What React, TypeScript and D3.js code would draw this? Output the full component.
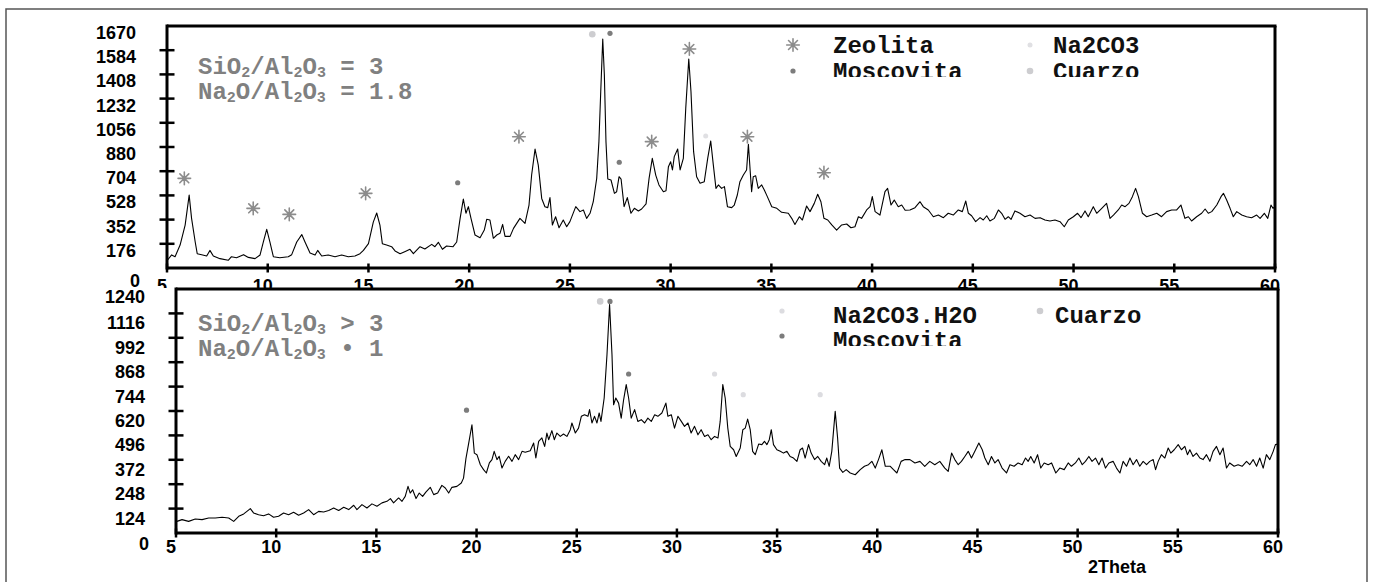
import React from "react";
import * as d3 from "d3";

type Point = [number, number];

interface Mark {
  theta: number;
  counts: number;
  phase: string;
}

// 2Theta / counts (SiO2/Al2O3 = 3)
const topScan: Point[] = [
  [5.03, 58], [5.23, 95], [5.4, 82], [5.65, 167], [5.9, 312], [6.1, 530], [6.22, 361], [6.4, 189],
  [6.5, 104], [6.72, 97], [6.97, 87], [7.13, 128], [7.3, 87], [7.63, 68], [8.04, 56], [8.2, 82],
  [8.45, 75], [8.8, 97], [9.04, 77], [9.37, 68], [9.62, 95], [9.78, 189], [9.95, 281], [10.11, 189],
  [10.28, 82], [10.6, 75], [11.02, 82], [11.19, 97], [11.44, 189], [11.69, 243], [11.85, 189], [12.1, 109],
  [12.35, 94], [12.48, 128], [12.68, 87], [13.0, 94], [13.34, 82], [13.67, 94], [14.0, 82], [14.33, 87],
  [14.58, 104], [14.75, 128], [15.0, 177], [15.24, 334], [15.41, 400], [15.57, 312], [15.69, 177], [15.9, 167],
  [16.15, 155], [16.32, 124], [16.57, 104], [16.8, 119], [17.06, 136], [17.23, 104], [17.56, 155], [17.8, 138],
  [18.14, 172], [18.3, 155], [18.47, 187], [18.67, 136], [18.88, 160], [19.2, 155], [19.38, 189], [19.55, 361],
  [19.71, 502], [19.84, 398], [19.96, 446], [20.09, 361], [20.29, 240], [20.54, 220], [20.75, 276], [20.87, 354],
  [21.03, 349], [21.2, 216], [21.37, 240], [21.53, 252], [21.66, 317], [21.78, 230], [22.03, 230], [22.2, 288],
  [22.52, 361], [22.77, 325], [22.97, 458], [23.1, 676], [23.27, 865], [23.43, 748], [23.6, 506], [23.76, 446],
  [23.9, 439], [24.01, 512], [24.13, 313], [24.29, 373], [24.46, 293], [24.67, 349], [24.84, 300], [25.0, 337],
  [25.29, 446], [25.5, 410], [25.67, 422], [25.83, 361], [26.0, 398], [26.16, 482], [26.33, 652], [26.44, 919],
  [26.53, 1282], [26.63, 1665], [26.71, 1403], [26.79, 919], [26.88, 647], [27.04, 640], [27.21, 543], [27.32, 555],
  [27.44, 664], [27.54, 647], [27.69, 446], [27.85, 512], [28.03, 398], [28.2, 434], [28.4, 415], [28.56, 429],
  [28.78, 466], [28.93, 652], [29.09, 797], [29.26, 676], [29.42, 604], [29.64, 555], [29.77, 562], [29.89, 737],
  [30.0, 773], [30.09, 713], [30.18, 810], [30.35, 865], [30.47, 713], [30.63, 797], [30.75, 1161], [30.9, 1520],
  [31.01, 1282], [31.14, 846], [31.29, 664], [31.46, 616], [31.67, 628], [31.84, 797], [31.99, 924], [32.12, 748],
  [32.25, 579], [32.37, 604], [32.53, 579], [32.67, 592], [32.82, 446], [33.03, 439], [33.16, 458], [33.31, 531],
  [33.44, 628], [33.61, 676], [33.77, 713], [33.86, 899], [33.94, 725], [34.02, 555], [34.1, 664], [34.22, 671],
  [34.35, 579], [34.52, 604], [34.65, 567], [34.8, 519], [35.02, 446], [35.27, 434], [35.51, 405], [35.84, 398],
  [36.01, 361], [36.17, 317], [36.39, 373], [36.54, 349], [36.75, 451], [36.92, 410], [37.13, 470], [37.3, 536],
  [37.46, 482], [37.61, 361], [37.8, 349], [38.0, 313], [38.24, 276], [38.49, 313], [38.74, 320], [38.95, 293],
  [39.15, 300], [39.32, 373], [39.48, 361], [39.73, 422], [39.9, 446], [40.01, 519], [40.15, 410], [40.39, 385],
  [40.64, 555], [40.77, 579], [40.94, 458], [41.1, 494], [41.3, 446], [41.47, 458], [41.64, 420], [41.88, 422],
  [42.13, 439], [42.38, 482], [42.54, 446], [42.79, 422], [43.04, 373], [43.29, 385], [43.54, 366], [43.78, 398],
  [44.03, 385], [44.28, 422], [44.48, 410], [44.65, 487], [44.78, 398], [44.94, 380], [45.14, 337], [45.36, 366],
  [45.52, 349], [45.69, 380], [45.85, 342], [46.07, 361], [46.27, 422], [46.43, 398], [46.6, 354], [46.76, 373],
  [46.9, 354], [47.09, 415], [47.34, 398], [47.59, 373], [47.84, 385], [48.09, 361], [48.34, 366], [48.58, 349],
  [48.83, 342], [49.08, 349], [49.33, 337], [49.54, 300], [49.74, 349], [49.99, 373], [50.2, 398], [50.37, 366],
  [50.57, 415], [50.73, 373], [50.98, 446], [51.15, 398], [51.4, 434], [51.64, 470], [51.81, 361], [51.98, 385],
  [52.22, 422], [52.39, 458], [52.56, 446], [52.75, 470], [52.92, 519], [53.08, 579], [53.22, 519], [53.42, 398],
  [53.63, 373], [53.88, 385], [54.13, 398], [54.37, 373], [54.62, 410], [54.87, 422], [55.12, 422], [55.33, 458],
  [55.53, 361], [55.7, 373], [55.86, 342], [56.11, 373], [56.36, 398], [56.53, 429], [56.69, 398], [56.86, 410],
  [57.11, 458], [57.32, 519], [57.44, 543], [57.6, 494], [57.77, 434], [57.93, 373], [58.1, 410], [58.35, 385],
  [58.59, 373], [58.84, 366], [59.09, 385], [59.26, 361], [59.47, 398], [59.64, 361], [59.8, 458], [59.9, 434],
  [60.0, 446],
];

// lower pattern (SiO2/Al2O3 > 3)
const bottomScan: Point[] = [
  [5.05, 59], [5.3, 68], [5.63, 59], [5.96, 71], [6.3, 68], [6.63, 76], [6.96, 76], [7.3, 80],
  [7.63, 76], [7.88, 59], [8.13, 85], [8.38, 97], [8.54, 110], [8.71, 124], [8.87, 102], [9.12, 93],
  [9.37, 88], [9.62, 97], [9.87, 80], [10.12, 85], [10.37, 102], [10.62, 93], [10.87, 105], [11.12, 90],
  [11.37, 102], [11.62, 119], [11.87, 93], [12.12, 110], [12.37, 107], [12.62, 114], [12.87, 127], [13.12, 114],
  [13.37, 131], [13.62, 119], [13.87, 141], [14.03, 119], [14.28, 144], [14.53, 127], [14.78, 148], [15.03, 136],
  [15.28, 153], [15.53, 161], [15.7, 175], [15.86, 153], [16.11, 178], [16.28, 161], [16.44, 186], [16.58, 237],
  [16.69, 203], [16.81, 220], [16.98, 175], [17.14, 203], [17.31, 186], [17.47, 208], [17.69, 232], [17.86, 195],
  [18.06, 203], [18.27, 242], [18.44, 229], [18.61, 203], [18.77, 232], [19.02, 237], [19.24, 254], [19.35, 279],
  [19.47, 378], [19.6, 452], [19.77, 550], [19.89, 406], [20.02, 398], [20.19, 347], [20.35, 322], [20.49, 305],
  [20.64, 356], [20.77, 373], [20.88, 415], [21.02, 373], [21.13, 390], [21.27, 330], [21.43, 364], [21.6, 390],
  [21.77, 364], [21.93, 398], [22.1, 373], [22.27, 415], [22.43, 410], [22.68, 418], [22.85, 457], [22.96, 381],
  [23.1, 466], [23.26, 483], [23.4, 440], [23.51, 508], [23.6, 474], [23.76, 520], [23.88, 474], [24.01, 508],
  [24.18, 491], [24.34, 503], [24.51, 491], [24.68, 525], [24.76, 559], [24.93, 508], [25.09, 533], [25.23, 593],
  [25.39, 601], [25.56, 593], [25.64, 627], [25.76, 559], [25.89, 593], [26.01, 559], [26.12, 610], [26.21, 567],
  [26.37, 686], [26.51, 906], [26.64, 1161], [26.76, 906], [26.84, 652], [26.95, 686], [27.09, 660], [27.22, 584],
  [27.34, 677], [27.47, 754], [27.59, 686], [27.72, 584], [27.89, 627], [28.05, 567], [28.22, 576], [28.39, 559],
  [28.55, 584], [28.72, 567], [28.89, 601], [29.05, 593], [29.25, 610], [29.45, 660], [29.55, 593], [29.72, 601],
  [29.88, 533], [30.05, 593], [30.22, 567], [30.38, 542], [30.55, 559], [30.71, 508], [30.88, 542], [31.05, 499],
  [31.21, 525], [31.38, 491], [31.55, 499], [31.71, 474], [31.88, 491], [32.05, 483], [32.16, 567], [32.29, 754],
  [32.41, 686], [32.54, 533], [32.66, 440], [32.83, 423], [32.96, 389], [33.16, 432], [33.29, 525], [33.41, 533],
  [33.53, 579], [33.66, 525], [33.78, 415], [33.91, 398], [34.08, 452], [34.24, 449], [34.37, 466], [34.49, 449],
  [34.61, 474], [34.71, 525], [34.82, 449], [34.99, 423], [35.16, 415], [35.32, 406], [35.49, 415], [35.65, 389],
  [35.82, 381], [35.99, 364], [36.15, 423], [36.27, 432], [36.4, 381], [36.57, 449], [36.7, 406], [36.87, 373],
  [37.03, 389], [37.2, 364], [37.37, 347], [37.48, 381], [37.6, 339], [37.73, 415], [37.9, 618], [38.02, 483],
  [38.12, 330], [38.28, 308], [38.45, 322], [38.65, 305], [38.9, 296], [39.15, 322], [39.36, 339], [39.56, 347],
  [39.73, 364], [39.9, 330], [40.06, 373], [40.23, 423], [40.4, 339], [40.65, 339], [40.81, 322], [40.98, 305],
  [41.19, 364], [41.39, 373], [41.63, 373], [41.88, 356], [42.13, 364], [42.37, 339], [42.62, 364], [42.87, 347],
  [43.12, 364], [43.37, 330], [43.54, 313], [43.71, 406], [43.87, 373], [44.04, 347], [44.2, 364], [44.37, 389],
  [44.54, 415], [44.7, 381], [44.87, 415], [45.07, 457], [45.24, 423], [45.37, 381], [45.54, 347], [45.7, 389],
  [45.87, 356], [46.03, 373], [46.23, 330], [46.45, 305], [46.62, 347], [46.83, 339], [47.03, 356], [47.23, 347],
  [47.4, 381], [47.53, 364], [47.66, 389], [47.83, 356], [48.0, 398], [48.16, 330], [48.33, 356], [48.53, 347],
  [48.7, 356], [48.91, 305], [49.11, 330], [49.33, 322], [49.53, 356], [49.69, 339], [49.89, 356], [50.06, 381],
  [50.23, 347], [50.39, 364], [50.56, 389], [50.72, 364], [50.89, 381], [51.06, 347], [51.22, 381], [51.39, 330],
  [51.56, 356], [51.77, 364], [51.94, 330], [52.11, 305], [52.27, 364], [52.44, 339], [52.61, 381], [52.77, 347],
  [52.94, 373], [53.1, 339], [53.27, 364], [53.44, 347], [53.6, 364], [53.77, 373], [53.89, 322], [54.02, 364],
  [54.18, 398], [54.35, 381], [54.52, 432], [54.65, 406], [54.82, 423], [55.02, 449], [55.18, 423], [55.35, 440],
  [55.48, 398], [55.6, 423], [55.76, 389], [55.93, 406], [56.1, 381], [56.26, 373], [56.43, 398], [56.6, 364],
  [56.76, 415], [56.93, 440], [57.1, 398], [57.26, 432], [57.43, 330], [57.59, 356], [57.81, 339], [58.01, 347],
  [58.21, 339], [58.43, 364], [58.59, 347], [58.76, 373], [58.93, 339], [59.09, 381], [59.26, 330], [59.42, 398],
  [59.59, 373], [59.76, 415], [59.87, 449], [60.0, 452],
];

const topMarks: Mark[] = [
  { theta: 5.86, counts: 652, phase: "Zeolita" },
  { theta: 9.28, counts: 434, phase: "Zeolita" },
  { theta: 11.07, counts: 390, phase: "Zeolita" },
  { theta: 14.86, counts: 543, phase: "Zeolita" },
  { theta: 19.43, counts: 620, phase: "Moscovita" },
  { theta: 22.47, counts: 955, phase: "Zeolita" },
  { theta: 26.11, counts: 1700, phase: "Cuarzo" },
  { theta: 26.99, counts: 1707, phase: "Moscovita" },
  { theta: 27.45, counts: 769, phase: "Moscovita" },
  { theta: 29.06, counts: 919, phase: "Zeolita" },
  { theta: 30.93, counts: 1593, phase: "Zeolita" },
  { theta: 31.74, counts: 960, phase: "Na2CO3" },
  { theta: 33.81, counts: 955, phase: "Zeolita" },
  { theta: 37.61, counts: 693, phase: "Zeolita" },
];

const bottomMarks: Mark[] = [
  { theta: 19.5, counts: 624, phase: "Moscovita" },
  { theta: 26.17, counts: 1177, phase: "Cuarzo" },
  { theta: 26.66, counts: 1177, phase: "Moscovita" },
  { theta: 27.59, counts: 808, phase: "Moscovita" },
  { theta: 31.88, counts: 808, phase: "Na2CO3.H2O" },
  { theta: 33.31, counts: 703, phase: "Na2CO3.H2O" },
  { theta: 37.15, counts: 703, phase: "Na2CO3.H2O" },
];

const thetaTicks = [5, 10, 15, 20, 25, 30, 35, 40, 45, 50, 55, 60];
const topCountTicks = [176, 352, 528, 704, 880, 1056, 1232, 1408, 1584];
const topCountLabels = [0, 176, 352, 528, 704, 880, 1056, 1232, 1408, 1584, 1670];
const bottomCountTicks = [124, 248, 372, 496, 620, 744, 868, 992, 1116];
const bottomCountLabels = [0, 124, 248, 372, 496, 620, 744, 868, 992, 1116, 1240];

const topLegend = [["Zeolita", "Moscovita"], ["Na2CO3", "Cuarzo"]];
const bottomLegend = [["Na2CO3.H2O", "Moscovita"], ["Cuarzo"]];

// ratio annotations; "_" marks a subscript piece
const topRatio = [["SiO", "_2", "/Al", "_2", "O", "_3", " = 3"], ["Na", "_2", "O/Al", "_2", "O", "_3", " = 1.8"]];
const bottomRatio = [["SiO", "_2", "/Al", "_2", "O", "_3", " > 3"], ["Na", "_2", "O/Al", "_2", "O", "_3", " \u2022 1"]];

const phaseStyle: Record<string, { star?: boolean; r: number; color: string }> = {
  Zeolita: { star: true, r: 6.3, color: "#8c8c8c" },
  Moscovita: { r: 2.6, color: "#7c7c7c" },
  Na2CO3: { r: 2.5, color: "#e0e0e3" },
  "Na2CO3.H2O": { r: 2.6, color: "#dcdce0" },
  Cuarzo: { r: 3.3, color: "#cdcdd0" },
};

const tickFont = "'Liberation Sans', Arial, Helvetica, sans-serif";
const monoFont = "'Liberation Mono', 'Courier New', monospace";
const textGrey = "#808080";

function Symbol({ cx, cy, phase }: { cx: number; cy: number; phase: string }) {
  const s = phaseStyle[phase];
  if (s.star) {
    const r = s.r;
    const d = r * Math.SQRT1_2;
    return (
      <path
        d={`M${cx},${cy - r}L${cx},${cy + r}M${cx - r},${cy}L${cx + r},${cy}M${cx - d},${cy - d}L${cx + d},${cy + d}M${cx - d},${cy + d}L${cx + d},${cy - d}`}
        stroke={s.color}
        strokeWidth={1.6}
        strokeLinecap="round"
      />
    );
  }
  return <circle cx={cx} cy={cy} r={s.r} fill={s.color} />;
}

function Ratio({ x, y, lines }: { x: number; y: number; lines: string[][] }) {
  return (
    <g fontFamily={monoFont} fontWeight="bold" fill={textGrey}>
      {lines.map((parts, i) => {
        let shift = 0;
        return (
          <text key={i} x={x} y={y + i * 25} fontSize={24}>
            {parts.map((p, j) => {
              const sub = p.startsWith("_");
              const target = sub ? 3 : 0;
              const dy = target - shift;
              shift = target;
              return (
                <tspan key={j} dy={dy} fontSize={sub ? 15 : 24}>
                  {sub ? p.slice(1) : p}
                </tspan>
              );
            })}
          </text>
        );
      })}
    </g>
  );
}

interface PanelProps {
  id: string;
  scan: Point[];
  marks: Mark[];
  left: number;
  right: number;
  top: number;
  bottom: number;
  yMax: number;
  countTicks: number[];
  countLabels: number[];
  labelDy: number;
  zeroDy: number;
  topDy: number;
  xLabelDy: number;
  legend: string[][];
  legendSymX: number[];
  legendTextX: number[];
  legendY: number[];
  legendSymDy: number;
  legendClip: number;
  ratio: string[][];
  ratioY: number;
}

function Panel(p: PanelProps) {
  const x = d3.scaleLinear().domain([5, 60]).range([p.left, p.right]);
  const y = d3.scaleLinear().domain([0, p.yMax]).range([p.bottom, p.top]);
  const line = d3
    .line<Point>()
    .x((d) => x(d[0]))
    .y((d) => y(d[1]));

  return (
    <g>
      <rect x={p.left} y={p.top} width={p.right - p.left} height={p.bottom - p.top} fill="#fff" />
      <path d={line(p.scan) as string} fill="none" stroke="#000" strokeWidth={1.1} strokeLinejoin="round" />

      {p.marks.map((m, i) => (
        <Symbol key={i} cx={x(m.theta)} cy={y(m.counts)} phase={m.phase} />
      ))}

      <Ratio x={198} y={p.ratioY} lines={p.ratio} />

      <clipPath id={`legend-${p.id}`}>
        <rect x={p.left} y={p.top} width={p.right - p.left} height={p.legendClip - p.top} />
      </clipPath>
      <g clipPath={`url(#legend-${p.id})`}>
        {p.legend.map((col, ci) =>
          col.map((name, ri) => (
            <g key={name}>
              <Symbol cx={p.legendSymX[ci]} cy={p.legendY[ri] + p.legendSymDy} phase={name} />
              <text
                x={p.legendTextX[ci]}
                y={p.legendY[ri]}
                fontFamily={monoFont}
                fontWeight="bold"
                fontSize={24}
                fill="#111"
              >
                {name}
              </text>
            </g>
          ))
        )}
      </g>

      {/* frame */}
      <g stroke="#000" strokeWidth={3} fill="none">
        <line x1={p.left} x2={p.right + 1.5} y1={p.top} y2={p.top} />
        <line x1={p.right} x2={p.right} y1={p.top} y2={p.bottom} />
        <line x1={p.left} x2={p.right + 1.5} y1={p.bottom} y2={p.bottom} />
        <line x1={p.left} x2={p.left} y1={p.top - 1.5} y2={p.bottom + 1.5} />
      </g>
      <g stroke="#000" strokeWidth={2.5}>
        {p.countTicks.map((v) => (
          <line key={v} x1={p.left - 7.5} x2={p.left + 7.5} y1={y(v)} y2={y(v)} />
        ))}
        {thetaTicks.map((t) => (
          <line key={t} x1={x(t)} x2={x(t)} y1={p.bottom - 4.5} y2={p.bottom + 4.5} />
        ))}
      </g>

      <g fontFamily={tickFont} fontWeight="bold" fontSize={18} fill="#000">
        {p.countLabels.map((v, i) => {
          const dy = v === 0 ? p.zeroDy : i === p.countLabels.length - 1 ? p.topDy : p.labelDy;
          return (
            <text
              key={v}
              x={v === 0 ? p.left - 27 : p.left - 31}
              y={y(v) + dy}
              textAnchor="end"
              dominantBaseline="central"
            >
              {v}
            </text>
          );
        })}
        {thetaTicks.map((t) => (
          <text key={t} x={x(t) - 5} y={p.bottom + p.xLabelDy} textAnchor="middle">
            {t}
          </text>
        ))}
      </g>
    </g>
  );
}

export default function App() {
  return (
    <svg
      width={1373}
      height={582}
      style={{ position: "absolute", left: 0, top: 0, display: "block", background: "#fff" }}
    >
      <rect x={0} y={0} width={1373} height={582} fill="#fff" />
      <Panel
        id="top"
        scan={topScan}
        marks={topMarks}
        left={167}
        right={1275}
        top={26}
        bottom={268}
        yMax={1760}
        countTicks={topCountTicks}
        countLabels={topCountLabels}
        labelDy={7}
        zeroDy={13}
        topDy={-5}
        xLabelDy={24}
        legend={topLegend}
        legendSymX={[793, 1030]}
        legendTextX={[833, 1053]}
        legendY={[53, 79]}
        legendSymDy={-8}
        legendClip={77}
        ratio={topRatio}
        ratioY={74}
      />
      {/* lower graph pasted over the upper one's axis labels */}
      <rect x={7} y={288} width={1359} height={300} fill="#fff" />
      <Panel
        id="bottom"
        scan={bottomScan}
        marks={bottomMarks}
        left={176}
        right={1278}
        top={289}
        bottom={533}
        yMax={1240}
        countTicks={bottomCountTicks}
        countLabels={bottomCountLabels}
        labelDy={10}
        zeroDy={11}
        topDy={8}
        xLabelDy={20}
        legend={bottomLegend}
        legendSymX={[782, 1040]}
        legendTextX={[833, 1055]}
        legendY={[323, 348]}
        legendSymDy={-12}
        legendClip={346}
        ratio={bottomRatio}
        ratioY={331}
      />
      <text
        x={1117}
        y={573}
        textAnchor="middle"
        fontFamily={tickFont}
        fontWeight="bold"
        fontSize={18}
      >
        2Theta
      </text>
      <rect x={6} y={9} width={1361} height={640} fill="none" stroke="#555" strokeWidth={1.5} />
    </svg>
  );
}
